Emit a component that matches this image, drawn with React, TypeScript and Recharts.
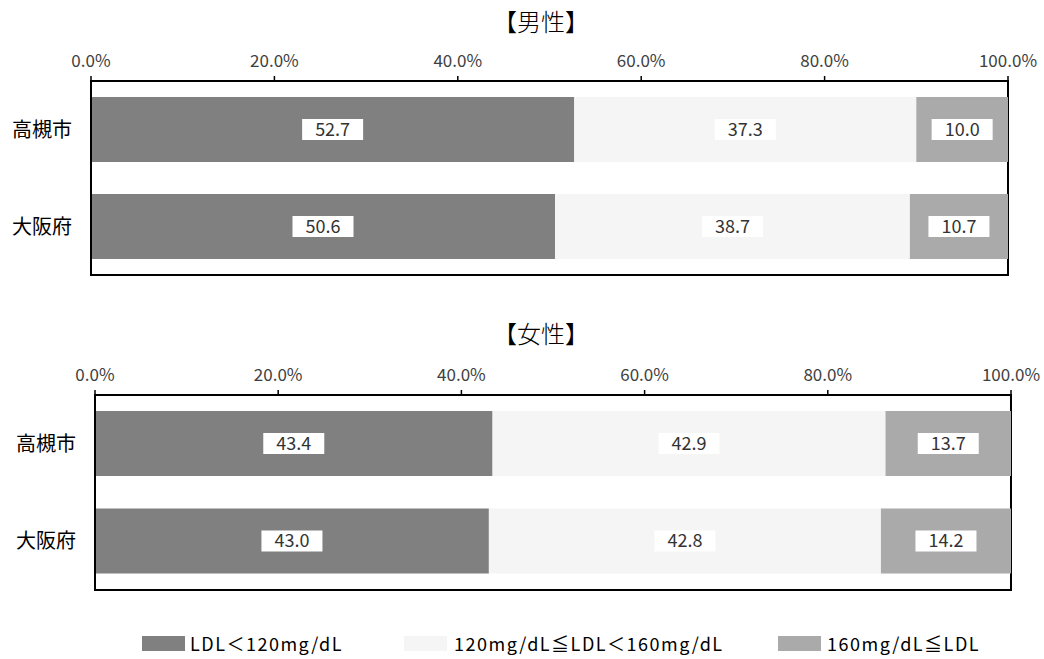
import React from 'react';
import { BarChart, Bar, XAxis, YAxis, LabelList, ReferenceArea } from 'recharts';

const categories = ['高槻市', '大阪府'];
const maleLow = [52.7, 50.6];
const maleMid = [37.3, 38.7];
const maleHigh = [10.0, 10.7];
const femaleLow = [43.4, 43.0];
const femaleMid = [42.9, 42.8];
const femaleHigh = [13.7, 14.2];
const xTicks = [0, 20, 40, 60, 80, 100];
const seriesNames = ['LDL＜120mg/dL', '120mg/dL≦LDL＜160mg/dL', '160mg/dL≦LDL'];
const seriesColors = ['#808080', '#f5f5f5', '#aaaaaa'];

const FONT = '"Noto Sans CJK JP", "Noto Sans", sans-serif';

const buildRows = (low: number[], mid: number[], high: number[]) =>
  categories.map((name, i) => ({ name, low: low[i], mid: mid[i], high: high[i] }));

const BoxLabel = (props: any) => {
  const { x, y, width, height, value } = props;
  const cx = x + width / 2;
  const cy = y + height / 2;
  return (
    <g>
      <rect x={cx - 30.5} y={cy - 10.5} width={61} height={21} fill="#ffffff" />
      <text x={cx} y={cy} dy="0.36em" textAnchor="middle" fontSize={18} fill="#333" fontFamily={FONT}>
        {Number(value).toFixed(1)}
      </text>
    </g>
  );
};

interface PanelProps {
  rows: { name: string; low: number; mid: number; high: number }[];
  height: number;
  margin: { top: number; right: number; bottom: number; left: number };
}

const Panel: React.FC<PanelProps> = ({ rows, height, margin }) => (
  <BarChart width={1044} height={height} data={rows} layout="vertical" margin={margin}>
    <XAxis
      type="number"
      orientation="top"
      domain={[0, 100]}
      ticks={xTicks}
      height={30}
      tickFormatter={(v: number) => v.toFixed(1) + '%'}
      axisLine={{ stroke: '#000', strokeWidth: 2 }}
      tickLine={{ stroke: '#000', strokeWidth: 1.5 }}
      tickSize={5}
      tickMargin={9}
      tick={{ fill: '#404040', fontSize: 17, fontFamily: FONT }}
      interval={0}
    />
    <YAxis
      type="category"
      dataKey="name"
      width={80}
      axisLine={{ stroke: '#000', strokeWidth: 2 }}
      tickLine={false}
      tickSize={0}
      tickMargin={19}
      tick={{ fill: '#000', fontSize: 20, fontFamily: FONT }}
    />
    <Bar dataKey="low" stackId="s" fill={seriesColors[0]} barSize={65} isAnimationActive={false}>
      <LabelList dataKey="low" content={BoxLabel} />
    </Bar>
    <Bar dataKey="mid" stackId="s" fill={seriesColors[1]} barSize={65} isAnimationActive={false}>
      <LabelList dataKey="mid" content={BoxLabel} />
    </Bar>
    <Bar dataKey="high" stackId="s" fill={seriesColors[2]} barSize={65} isAnimationActive={false}>
      <LabelList dataKey="high" content={BoxLabel} />
    </Bar>
    <ReferenceArea x1={0} x2={100} fill="none" fillOpacity={0} stroke="#000" strokeWidth={2} ifOverflow="visible" />
  </BarChart>
);

const Title: React.FC<{ text: string; top: number }> = ({ text, top }) => (
  <div
    style={{
      position: 'absolute',
      left: 441,
      top,
      width: 200,
      textAlign: 'center',
      fontSize: 24,
      fontWeight: 300,
      lineHeight: '30px',
      fontFamily: FONT,
      color: '#000',
    }}
  >
    {text}
  </div>
);

const legendPos = [
  { swatch: 142, text: 190 },
  { swatch: 404, text: 454 },
  { swatch: 778, text: 827 },
];

export default function App() {
  return (
    <div style={{ position: 'absolute', left: 0, top: 0, width: 1044, height: 659, background: '#fff', fontFamily: FONT }}>
      <Title text="【男性】" top={6} />
      <Title text="【女性】" top={318} />
      <div style={{ position: 'absolute', left: 0, top: 0 }}>
        <Panel rows={buildRows(maleLow, maleMid, maleHigh)} height={300} margin={{ top: 51, right: 36, bottom: 25, left: 11 }} />
      </div>
      <div style={{ position: 'absolute', left: 0, top: 300 }}>
        <Panel rows={buildRows(femaleLow, femaleMid, femaleHigh)} height={310} margin={{ top: 65, right: 33, bottom: 20, left: 15 }} />
      </div>
      {seriesNames.map((name, i) => (
        <React.Fragment key={name}>
          <div
            style={{
              position: 'absolute',
              left: legendPos[i].swatch,
              top: 636,
              width: 43,
              height: 15,
              background: seriesColors[i],
            }}
          />
          <div
            style={{
              position: 'absolute',
              left: legendPos[i].text,
              top: 630,
              fontSize: 18,
              fontWeight: 400,
              letterSpacing: 1.5,
              lineHeight: '26px',
              color: '#000',
              whiteSpace: 'nowrap',
            }}
          >
            {name}
          </div>
        </React.Fragment>
      ))}
    </div>
  );
}
